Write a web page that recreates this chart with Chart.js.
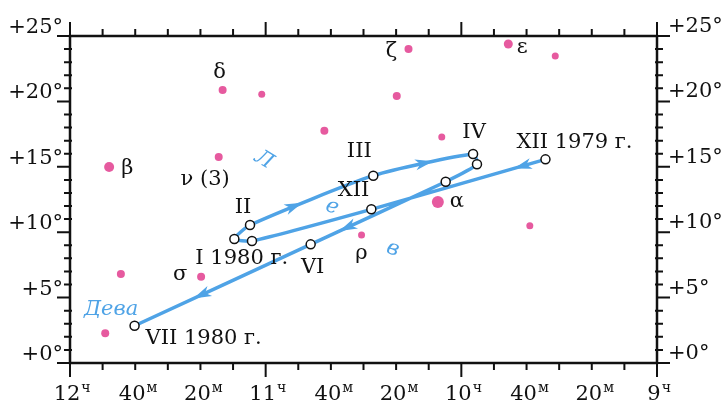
<!DOCTYPE html>
<html>
<head>
<meta charset="utf-8">
<script src="https://cdn.jsdelivr.net/npm/chart.js@4.4.1/dist/chart.umd.min.js"></script>
<style>
  html, body { margin: 0; padding: 0; background: #fff; }
  canvas { display: block; }
</style>
</head>
<body>
<canvas id="skyChart" width="725" height="405"></canvas>
<script>
// right ascension in hours (12h on the left, 9h on the right), declination in degrees
let starNames = ['β', 'ν (3)', 'δ', '', '', 'ζ', '', '', 'ε', '', '', 'α', 'ρ', 'σ', '', ''];
let starRA  = [11.80, 11.24, 11.22, 11.02, 10.70, 10.27, 10.33, 10.10, 9.76, 9.52, 9.65, 10.12, 10.51, 11.33, 11.74, 11.82];
let starDec = [14.98, 15.75, 20.87, 20.55, 17.76, 24.00, 20.41, 17.28, 24.39, 23.47, 10.50, 12.31, 9.79, 6.60, 6.80, 2.27];

// path of the planet, in the order it was travelled
let trackLabels = ['XII 1979 г.', 'XII', '', 'I 1980 г.', 'II', 'III', 'IV', '', '', 'VI', 'VII 1980 г.'];
let trackRA  = [9.57, 10.46, 11.07, 11.16, 11.08, 10.45, 9.94, 9.92, 10.08, 10.77, 11.67];
let trackDec = [15.57, 11.75, 9.33, 9.48, 10.55, 14.32, 15.98, 15.19, 13.86, 9.07, 2.85];

// constellation names
let constNames = ['Л', 'е', 'в', 'Дева'];
let constRA  = [11.01, 10.66, 10.35, 11.79];
let constDec = [15.52, 11.93, 8.72, 4.05];

// axis labels
let raTickValues = [12, 11 + 40/60, 11 + 20/60, 11, 10 + 40/60, 10 + 20/60, 10, 9 + 40/60, 9 + 20/60, 9];
let raTickMain = ['12', '40', '20', '11', '40', '20', '10', '40', '20', '9'];
let raTickSup  = ['ч', 'м', 'м', 'ч', 'м', 'м', 'ч', 'м', 'м', 'ч'];
let decTickValues = [25, 20, 15, 10, 5, 0];
let decTickLabels = ['+25°', '+20°', '+15°', '+10°', '+5°', '+0°'];

// styling
const ink = '#111';
const pink = '#e65a9f';
const blue = '#4fa3e6';
const serif = '"DejaVu Serif", "Liberation Serif", serif';
let starRadius = [5, 4, 4, 3.5, 4, 4, 4, 3.5, 4.5, 3.5, 3.5, 6, 3.5, 4, 4, 4];
let starLabelPos = {
  'β': [12, 1, 'left'], 'ν (3)': [11, 23, 'right'], 'δ': [-3, -17, 'center'],
  'ζ': [-17, 2, 'center'], 'ε': [14, 4, 'center'], 'α': [19, 0, 'center'],
  'ρ': [0, 19, 'center'], 'σ': [-21, -2, 'center']
};
let trackLabelPos = [
  [-29, -17, 'left'], [-2, -19, 'right'], null, [-39, 20, 'left'], [-7, -17, 'center'],
  [-14, -24, 'center'], [1, -21, 'center'], null, null, [2, 23, 'center'], [11, 13, 'left']
];
let constRotation = [0.55, 0.35, 0.35, 0];
// arrows: [segment index, position along it]
let arrows = [[0, 0.22], [4, 0.44], [5, 0.58], [8, 0.75], [9, 0.64]];

let stars = starRA.map((ra, i) => ({ x: ra, y: starDec[i] }));
let track = trackRA.map((ra, i) => ({ x: ra, y: trackDec[i] }));

function bez(p0, p1, p2, p3, t) {
  let u = 1 - t;
  return u*u*u*p0 + 3*u*u*t*p1 + 3*u*t*t*p2 + t*t*t*p3;
}
function bezD(p0, p1, p2, p3, t) {
  let u = 1 - t;
  return 3*u*u*(p1 - p0) + 6*u*t*(p2 - p1) + 3*t*t*(p3 - p2);
}

const skyDecor = {
  id: 'skyDecor',
  afterDatasetsDraw(chart) {
    const ctx = chart.ctx;
    const xs = chart.scales.x, ys = chart.scales.y;
    const a = chart.chartArea;
    ctx.save();

    // arrows on the path
    let pts = chart.getDatasetMeta(0).data;
    ctx.fillStyle = blue;
    arrows.forEach(([s, t]) => {
      let p = pts[s], q = pts[s + 1];
      let c1x = p.cp2x ?? p.x, c1y = p.cp2y ?? p.y, c2x = q.cp1x ?? q.x, c2y = q.cp1y ?? q.y;
      let x = bez(p.x, c1x, c2x, q.x, t), y = bez(p.y, c1y, c2y, q.y, t);
      let dx = bezD(p.x, c1x, c2x, q.x, t), dy = bezD(p.y, c1y, c2y, q.y, t);
      let ang = Math.atan2(dy, dx);
      ctx.save();
      ctx.translate(x, y);
      ctx.rotate(ang);
      ctx.beginPath();
      ctx.moveTo(0, 0);
      ctx.lineTo(-18, -5.5);
      ctx.lineTo(-13, 0);
      ctx.lineTo(-18, 5.5);
      ctx.closePath();
      ctx.fill();
      ctx.restore();
    });

    // frame
    ctx.strokeStyle = ink;
    ctx.lineWidth = 2.5;
    ctx.strokeRect(a.left, a.top, a.right - a.left, a.bottom - a.top);

    // tick marks
    ctx.lineWidth = 2;
    ctx.beginPath();
    for (let m = 0; m <= 180; m += 10) {
      let px = xs.getPixelForValue(9 + m / 60);
      let len = m % 60 === 0 ? 14 : 7;
      ctx.moveTo(px, a.bottom); ctx.lineTo(px, a.bottom + len);
      ctx.moveTo(px, a.top); ctx.lineTo(px, a.top - len);
    }
    for (let d = 0; d <= 25; d++) {
      let py = ys.getPixelForValue(d);
      let major = d % 5 === 0;
      ctx.moveTo(a.left - (major ? 13 : 6), py); ctx.lineTo(a.left + (major ? 0 : 2), py);
      ctx.moveTo(a.right - (major ? 0 : 2), py); ctx.lineTo(a.right + (major ? 13 : 6), py);
    }
    ctx.stroke();

    ctx.fillStyle = ink;
    // declination labels on both sides
    ctx.font = '21px ' + serif;
    ctx.textBaseline = 'alphabetic';
    decTickValues.forEach((v, i) => {
      let py = ys.getPixelForValue(v) - 3;
      ctx.textAlign = 'right';
      ctx.fillText(decTickLabels[i], a.left - 7, py);
      ctx.textAlign = 'left';
      ctx.fillText(decTickLabels[i], a.right + 11, py - 1);
    });

    // right ascension labels with superscripts
    raTickValues.forEach((v, i) => {
      let px = xs.getPixelForValue(v) - 3;
      ctx.font = '21px ' + serif;
      ctx.textAlign = 'center';
      ctx.fillText(raTickMain[i], px, 400);
      let w = ctx.measureText(raTickMain[i]).width;
      ctx.font = '14px ' + serif;
      ctx.textAlign = 'left';
      ctx.fillText(raTickSup[i], px + w / 2 + 1, 392);
    });

    // star names
    ctx.font = '21px ' + serif;
    ctx.textBaseline = 'middle';
    starNames.forEach((n, i) => {
      if (!n) return;
      let [dx, dy, al] = starLabelPos[n];
      ctx.textAlign = al;
      ctx.fillText(n, xs.getPixelForValue(starRA[i]) + dx, ys.getPixelForValue(starDec[i]) + dy);
    });

    // month labels on the path
    trackLabels.forEach((n, i) => {
      if (!n) return;
      let [dx, dy, al] = trackLabelPos[i];
      ctx.textAlign = al;
      ctx.fillText(n, xs.getPixelForValue(trackRA[i]) + dx, ys.getPixelForValue(trackDec[i]) + dy);
    });

    // constellation names
    ctx.fillStyle = blue;
    ctx.font = 'italic 21px ' + serif;
    ctx.textAlign = 'center';
    constNames.forEach((n, i) => {
      ctx.save();
      ctx.translate(xs.getPixelForValue(constRA[i]), ys.getPixelForValue(constDec[i]));
      ctx.rotate(constRotation[i]);
      ctx.fillText(n, 0, 0);
      ctx.restore();
    });

    ctx.restore();
  }
};

new Chart(document.getElementById('skyChart').getContext('2d'), {
  type: 'scatter',
  data: {
    datasets: [
      {
        type: 'line',
        data: track,
        borderColor: blue,
        borderWidth: 3.5,
        tension: 0.2,
        pointRadius: 4.5,
        pointBackgroundColor: '#fff',
        pointBorderColor: ink,
        pointBorderWidth: 1.5,
        fill: false
      },
      {
        data: stars,
        pointRadius: starRadius,
        backgroundColor: pink,
        borderWidth: 0
      }
    ]
  },
  options: {
    responsive: false,
    animation: false,
    devicePixelRatio: 1,
    layout: { padding: { left: 70, top: 36, right: 68, bottom: 42 } },
    plugins: { legend: { display: false }, tooltip: { enabled: false } },
    scales: {
      x: { type: 'linear', min: 9, max: 12, reverse: true, display: false },
      y: { type: 'linear', min: 0, max: 25, display: false }
    }
  },
  plugins: [skyDecor]
});
</script>
</body>
</html>
